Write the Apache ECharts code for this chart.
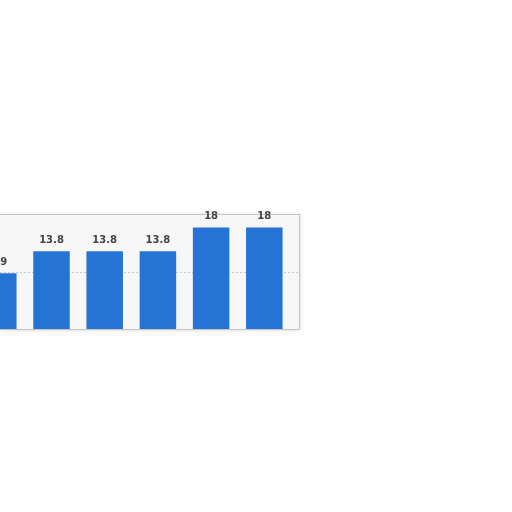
<!DOCTYPE html>
<html>
<head>
<meta charset="utf-8">
<script src="https://cdn.jsdelivr.net/npm/echarts@6/dist/echarts.min.js"></script>
<style>html,body{margin:0;padding:0;background:#fff;}#c{width:512px;height:512px;}</style>
</head>
<body>
<div id="c"></div>
<script>
// Bar positions (index of category) and values
const barIndex = [0, 1, 2, 3, 4, 5];
const values = [9.9, 13.8, 13.8, 13.8, 18, 18];
const yTicks = [0, 10, 20];

const seriesData = barIndex.map((i, k) => [i, values[k]]);
const edge = {show: true, lineStyle: {color: '#c4c4c4', width: 1}};

const chart = echarts.init(document.getElementById('c'), null, {renderer: 'canvas'});
chart.setOption({
  animation: false,
  backgroundColor: '#ffffff',
  grid: {
    left: 0, right: 213, top: 214, bottom: 183,
    show: true,
    backgroundColor: '#f7f7f7',
    borderWidth: 0,
    shadowColor: 'rgba(0,0,0,0.18)',
    shadowBlur: 4,
    shadowOffsetX: 1,
    shadowOffsetY: 1
  },
  xAxis: [{
    type: 'value', position: 'bottom',
    min: 0.032, max: 5.652,
    axisLine: edge, axisTick: {show: false}, axisLabel: {show: false},
    splitLine: {show: false}
  }, {
    type: 'value', position: 'top',
    min: 0.032, max: 5.652,
    axisLine: edge, axisTick: {show: false}, axisLabel: {show: false},
    splitLine: {show: false}
  }],
  yAxis: {
    type: 'value', position: 'right',
    min: yTicks[0], max: 20.4, interval: 10,
    axisLabel: {show: false},
    axisLine: edge,
    axisTick: {show: false},
    splitLine: {show: true, lineStyle: {color: ['rgba(0,0,0,0)', '#c8c8c8', 'rgba(0,0,0,0)'], type: [2, 2], width: 1}}
  },
  series: [{
    type: 'bar',
    data: seriesData,
    barWidth: 36.5,
    itemStyle: {color: '#2673d6'},
    label: {
      show: true,
      position: 'top',
      distance: 6,
      color: '#444',
      fontFamily: 'DejaVu Sans',
      fontWeight: 'bold',
      fontSize: 10,
      formatter: p => String(p.value[1])
    }
  }]
});
</script>
</body>
</html>
